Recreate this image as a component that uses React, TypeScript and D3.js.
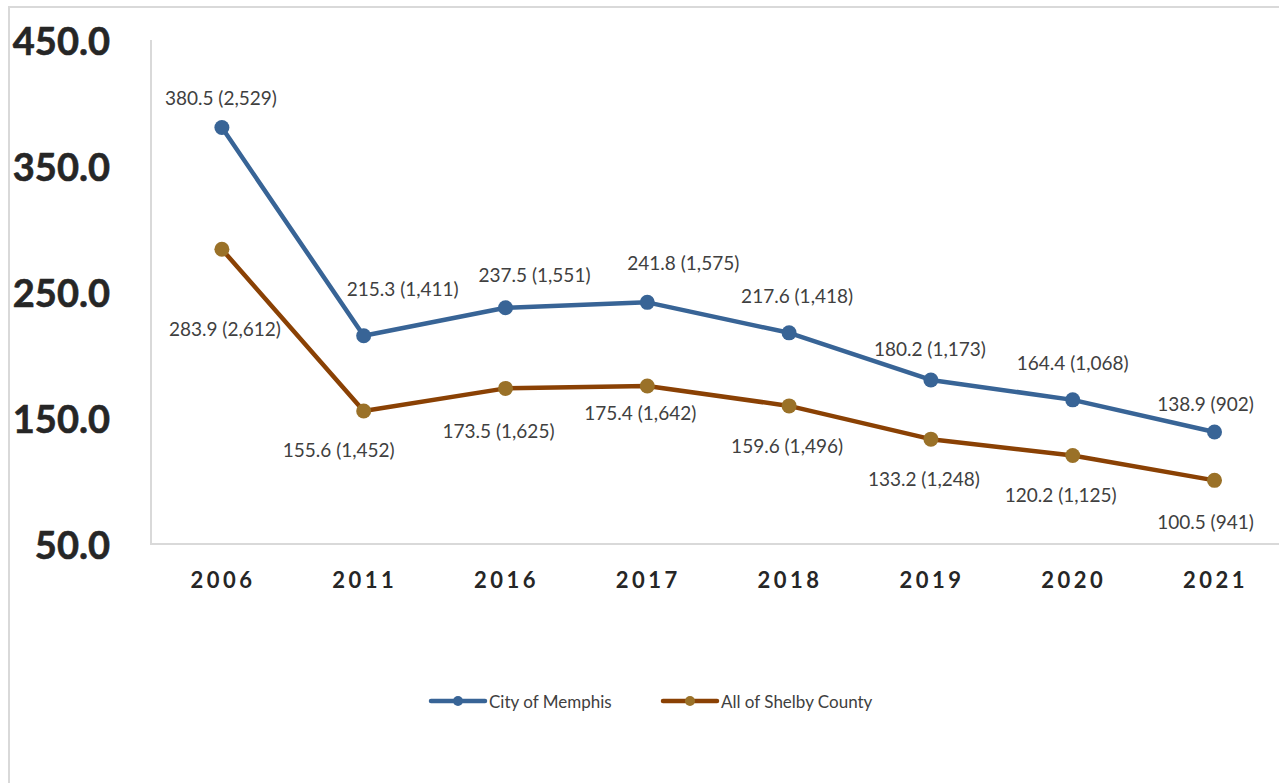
import React from "react";
import * as d3 from "d3";

const years = ["2006", "2011", "2016", "2017", "2018", "2019", "2020", "2021"];
const memphisRate = [380.5, 215.3, 237.5, 241.8, 217.6, 180.2, 164.4, 138.9];
const memphisCount = ["2,529", "1,411", "1,551", "1,575", "1,418", "1,173", "1,068", "902"];
const shelbyRate = [283.9, 155.6, 173.5, 175.4, 159.6, 133.2, 120.2, 100.5];
const shelbyCount = ["2,612", "1,452", "1,625", "1,642", "1,496", "1,248", "1,125", "941"];
const yTicks = [50, 150, 250, 350, 450];
const seriesNames = ["City of Memphis", "All of Shelby County"];

// label placement offsets (layout only)
const memphisOffsets = [[-1, -30], [39, -47], [29, -33], [36, -40], [8, -37], [-1, -31], [0, -37], [-9, -28]];
const shelbyOffsets = [[3, 79], [-25, 39], [-7, 42], [-7, 27], [-2, 40], [-7, 39], [-12, 39], [-9, 41]];

const W = 1279;
const H = 783;

export default function App() {
  const x = d3.scaleBand<string>().domain(years).range([151, 151 + 8 * 141.8]);
  const y = d3.scaleLinear().domain([50, 450]).range([544, 40]);
  const cx = (yr: string) => (x(yr) as number) + x.bandwidth() / 2;
  const line = d3
    .line<number>()
    .x((_, i) => cx(years[i]))
    .y((v) => y(v));

  const series = [
    { name: seriesNames[0], vals: memphisRate, counts: memphisCount, offs: memphisOffsets, lineColor: "#386496", markColor: "#386496" },
    { name: seriesNames[1], vals: shelbyRate, counts: shelbyCount, offs: shelbyOffsets, lineColor: "#8A4104", markColor: "#9A7128" },
  ];
  const labelFont = "Lato, 'Open Sans', sans-serif";

  return (
    <svg
      width={W}
      height={H}
      style={{ position: "absolute", left: 0, top: 0, display: "block", background: "#fff" }}
    >
      <rect x={9} y={7} width={1400} height={900} fill="#fff" stroke="#d9d9d9" strokeWidth={2} />
      {/* axes */}
      <line x1={151} x2={151} y1={40} y2={544} stroke="#d9d9d9" strokeWidth={2} />
      <line x1={150} x2={1300} y1={544} y2={544} stroke="#d9d9d9" strokeWidth={2} />
      {yTicks.map((t) => (
        <text
          key={t}
          x={110}
          y={y(t)}
          textAnchor="end"
          dominantBaseline="central"
          fontFamily={labelFont}
          fontWeight={700}
          fontSize={38}
          stroke="#262626"
          strokeWidth={0.6}
          fill="#262626"
        >
          {t.toFixed(1)}
        </text>
      ))}
      {years.map((yr) => (
        <text
          key={yr}
          x={cx(yr) + 1}
          y={579}
          textAnchor="middle"
          dominantBaseline="central"
          fontFamily={labelFont}
          fontWeight={700}
          fontSize={22}
          letterSpacing={3.5}
          fill="#262626"
        >
          {yr}
        </text>
      ))}
      {series.map((s) => (
        <g key={s.name}>
          <path d={line(s.vals) as string} fill="none" stroke={s.lineColor} strokeWidth={4.5} strokeLinejoin="round" />
          {s.vals.map((v, i) => (
            <circle key={i} cx={cx(years[i])} cy={y(v)} r={7.5} fill={s.markColor} />
          ))}
          {s.vals.map((v, i) => (
            <text
              key={"l" + i}
              x={cx(years[i]) + s.offs[i][0]}
              y={y(v) + s.offs[i][1]}
              textAnchor="middle"
              dominantBaseline="central"
              fontFamily={labelFont}
              fontSize={19}
              fill="#404040"
            >
              {`${v.toFixed(1)} (${s.counts[i]})`}
            </text>
          ))}
        </g>
      ))}
      {/* legend */}
      {series.map((s, i) => {
        const lx = i === 0 ? 431 : 663;
        return (
          <g key={"lg" + i}>
            <line x1={lx} x2={lx + 54} y1={701} y2={701} stroke={s.lineColor} strokeWidth={4.5} strokeLinecap="round" />
            <circle cx={lx + 27} cy={701} r={5} fill={s.markColor} />
            <text x={lx + 58} y={701} dominantBaseline="central" fontFamily={labelFont} fontSize={17} fill="#404040">
              {s.name}
            </text>
          </g>
        );
      })}
    </svg>
  );
}
